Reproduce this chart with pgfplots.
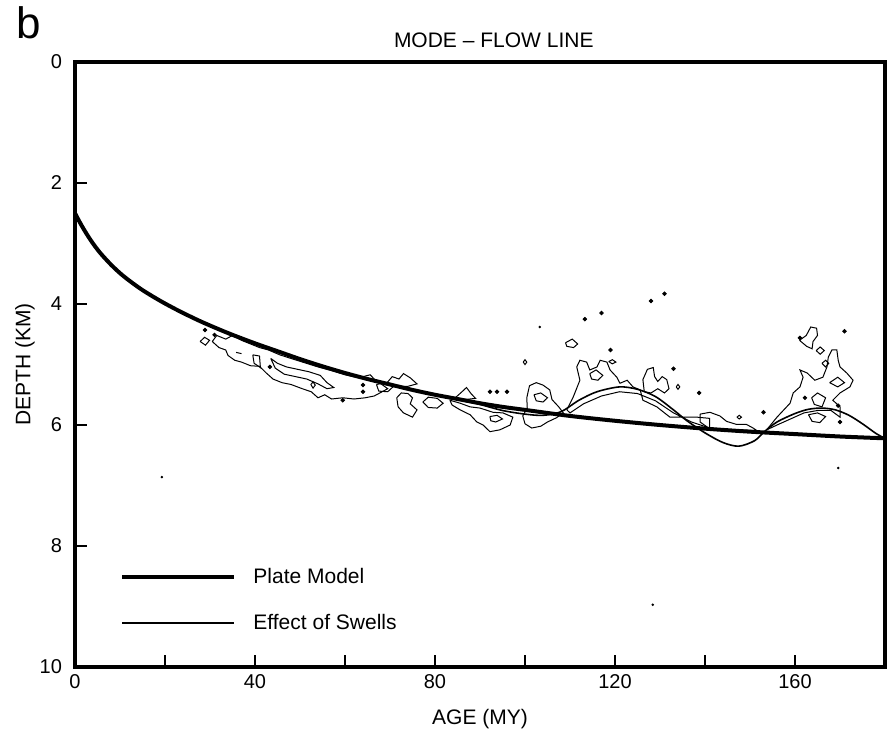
\documentclass[border=0pt]{standalone}
\usepackage{fontspec}
\setmainfont{Liberation Sans}
\usepackage{pgfplots}
\pgfplotsset{compat=1.18}
\begin{document}
\begin{tikzpicture}
\begin{axis}[
  scale only axis, width=405pt, height=302.5pt,
  xmin=0, xmax=180, ymin=0, ymax=10, y dir=reverse,
  axis line style={line width=2pt},
  xtick={0,20,...,160}, xticklabels={0,,40,,80,,120,,160},
  ytick={0,2,...,10},
  tick align=inside, xtick pos=left, ytick pos=left,
  major tick length=6pt, tick style={line width=1pt, black},
  /pgf/number format/assume math mode=true,
  ticklabel style={font=\fontsize{10}{10}\selectfont},
  yticklabel style={xshift=-3pt},
  xlabel={AGE (MY)}, ylabel={DEPTH (KM)},
  every axis x label/.style={at={(axis description cs:0.5,-0.0942)}, anchor=base, font=\fontsize{10.5}{10.5}\selectfont},
  every axis y label/.style={at={(axis description cs:-0.0617,0.5)}, rotate=90, anchor=center, font=\fontsize{10.5}{10.5}\selectfont},
  title={MODE -- FLOW LINE},
  every axis title/.style={at={(axis description cs:0.517,1.0248)}, anchor=base, font=\fontsize{10.5}{10.5}\selectfont},
  legend style={at={(axis description cs:0.0556,0.05)}, anchor=south west, draw=none, fill=none, inner sep=0pt, row sep=10pt, font=\fontsize{10.5}{10.5}\selectfont, legend cell align=left},
  legend image code/.code={\draw[#1] (0pt,0pt) -- (56pt,0pt); \path[draw=none, fill=none] (0pt,0pt) -- (63.5pt,0pt);},
  clip=true,
]
% Plate model
\addplot[black, line width=2pt, smooth] coordinates {
(0,2.50) (1,2.64) (2,2.77) (3,2.89) (4,3.00) (5,3.10) (6,3.19) (8,3.35) (10,3.49) (12,3.61)
(15,3.77) (19,3.95) (23,4.11) (28,4.29) (34,4.48) (40,4.65) (45,4.78) (50,4.91) (55,5.03) (60,5.14)
(65,5.24) (70,5.33) (75,5.42) (80,5.50) (85,5.57) (90,5.64) (95,5.70) (100,5.75) (110,5.85)
(120,5.93) (130,6.00) (140,6.06) (150,6.11) (160,6.15) (170,6.19) (180,6.22)};
\addlegendentry{Plate Model}
% Effect of swells
\addplot[black, line width=0.8pt, smooth] coordinates {
(85,5.57) (90,5.66) (95,5.76) (100,5.82) (104,5.84) (108,5.78) (112,5.59) (116,5.45) (121,5.37)
(125,5.41) (129,5.53) (133,5.75) (136,5.93) (140,6.13) (144,6.29) (147.5,6.35) (151,6.26)
(153.2,6.11) (156,5.95) (160,5.81) (163,5.74) (166,5.72) (169,5.75) (172,5.84) (175,5.98)
(178,6.14) (180,6.22)};
\addlegendentry{Effect of Swells}
% contours
\pgfplotsset{cont/.style={black, line width=0.5pt, forget plot}}
\addplot[cont] coordinates {(30.5,4.62) (31.5,4.52) (33.5,4.58) (35.0,4.52) (37.0,4.60) (39.0,4.66) (41.0,4.72) (43.0,4.76) (45.5,4.84) (48.0,4.90) (51.0,4.97) (54.0,5.04) (57.0,5.10) (60.0,5.17) (63.0,5.22) (65.6,5.17) (67.0,5.28) (68.0,5.32) (69.5,5.40) (68.0,5.46) (66.5,5.52) (64.5,5.55) (62.0,5.57) (59.5,5.55) (57.0,5.57) (55.5,5.50) (54.0,5.55) (52.5,5.45) (50.5,5.40) (48.0,5.33) (46.0,5.30) (44.0,5.24) (42.5,5.14) (41.0,5.03) (39.0,5.02) (37.0,4.96) (35.5,4.93) (34.0,4.85) (33.5,4.76) (32.0,4.72) (30.5,4.62)};
\addplot[cont] coordinates {(43.5,4.90) (45.0,4.98) (47.0,5.04) (49.5,5.08) (52.0,5.12) (54.5,5.18) (56.0,5.30) (57.5,5.38) (56.0,5.40) (54.0,5.32) (51.5,5.24) (49.0,5.20) (46.5,5.16) (44.5,5.06) (43.5,4.90)};
\addplot[cont] coordinates {(27.8,4.62) (28.8,4.55) (29.9,4.60) (29.0,4.68) (27.8,4.62)};
\addplot[cont] coordinates {(39.5,4.84) (41.0,4.86) (41.2,5.05) (39.8,4.98) (39.5,4.84)};
\addplot[cont] coordinates {(52.4,5.33) (52.9,5.29) (53.4,5.34) (52.9,5.39) (52.4,5.33)};
\addplot[cont] coordinates {(35.8,4.80) (37.0,4.82)};
\addplot[cont] coordinates {(67.0,5.33) (69.0,5.30) (70.8,5.36) (69.5,5.45) (67.5,5.44) (67.0,5.33)};
\addplot[cont] coordinates {(69.0,5.33) (70.5,5.20) (72.0,5.24) (73.0,5.15) (74.5,5.22) (76.0,5.32) (74.0,5.36) (71.0,5.36) (69.0,5.33)};
\addplot[cont] coordinates {(71.5,5.55) (72.5,5.47) (74.0,5.48) (75.0,5.55) (74.5,5.65) (76.0,5.75) (75.0,5.87) (73.0,5.80) (71.8,5.70) (71.5,5.55)};
\addplot[cont] coordinates {(77.3,5.62) (78.5,5.54) (80.5,5.56) (81.8,5.64) (80.5,5.72) (78.5,5.71) (77.3,5.62)};
\addplot[cont] coordinates {(84.5,5.55) (86.0,5.45) (87.0,5.38) (88.0,5.48) (89.0,5.56) (86.5,5.58) (84.5,5.55)};
\addplot[cont] coordinates {(83.3,5.59) (85.6,5.64) (87.8,5.70) (90.0,5.72) (92.9,5.79) (95.1,5.80) (97.3,5.87) (96.7,6.00) (94.4,6.08) (92.2,6.11) (90.7,6.00) (89.3,5.95) (87.8,5.83) (85.6,5.75) (83.8,5.67) (83.3,5.59)};
\addplot[cont] coordinates {(92.2,5.86) (93.8,5.84) (95.0,5.90) (93.5,5.95) (92.4,5.93) (92.2,5.86)};
\addplot[cont] coordinates {(100.4,5.55) (101.0,5.35) (102.5,5.30) (104.0,5.34) (105.5,5.42) (106.0,5.58) (107.5,5.70) (108.5,5.80) (107.0,5.88) (105.0,5.95) (103.5,6.02) (101.5,6.05) (100.0,5.98) (99.5,5.85) (100.5,5.72) (100.4,5.55)};
\addplot[cont] coordinates {(102.0,5.50) (103.5,5.47) (105.0,5.55) (104.0,5.62) (102.5,5.60) (102.0,5.50)};
\addplot[cont] coordinates {(109.3,5.75) (110.7,5.54) (112.2,5.26) (111.5,5.04) (112.2,4.93) (113.7,4.96) (114.4,5.09) (116.0,5.04) (116.7,4.93) (118.2,4.96) (118.9,5.09) (120.4,5.21) (121.1,5.31) (122.7,5.26) (124.0,5.37) (125.6,5.42) (126.2,5.59) (129.3,5.70) (132.2,5.87) (135.1,5.87) (138.2,5.87) (141.0,5.89) (141.0,6.05) (137.0,5.95) (133.0,5.80) (129.0,5.60) (125.0,5.48) (121.0,5.45) (117.0,5.52) (113.0,5.65) (110.0,5.80) (109.3,5.75)};
\addplot[cont] coordinates {(114.4,5.15) (115.8,5.09) (117.3,5.18) (116.2,5.26) (114.8,5.24) (114.4,5.15)};
\addplot[cont] coordinates {(109.0,4.64) (110.5,4.58) (111.7,4.66) (110.8,4.72) (109.3,4.70) (109.0,4.64)};
\addplot[cont] coordinates {(118.6,4.95) (119.4,4.92) (120.2,4.96) (119.4,4.99) (118.6,4.95)};
\addplot[cont] coordinates {(126.5,5.45) (126.2,5.25) (127.2,5.08) (128.5,5.05) (128.8,5.20) (129.5,5.28) (130.5,5.20) (131.5,5.25) (132.0,5.40) (131.0,5.47) (129.5,5.40) (128.0,5.47) (126.5,5.45)};
\addplot[cont] coordinates {(133.6,5.37) (134.0,5.33) (134.4,5.37) (134.0,5.41) (133.6,5.37)};
\addplot[cont] coordinates {(99.6,4.96) (100.0,4.92) (100.4,4.96) (100.0,5.00) (99.6,4.96)};
\addplot[cont] coordinates {(138.9,5.82) (141.1,5.79) (143.3,5.85) (144.8,5.94) (147.0,5.99) (149.2,5.99) (150.7,6.05) (151.5,6.09) (146.0,6.08) (141.0,6.06) (138.9,5.95) (138.9,5.82)};
\addplot[cont] coordinates {(153.7,6.08) (156.0,5.87) (158.9,5.64) (159.6,5.47) (161.1,5.37) (161.8,5.21) (161.1,5.09) (162.7,5.14) (164.4,5.26) (166.2,5.21) (167.1,5.04) (167.4,4.88) (168.2,4.76) (169.3,4.76) (169.6,4.93) (170.0,5.04) (171.5,5.14) (172.9,5.26) (172.2,5.37) (170.0,5.47) (168.4,5.59) (170.0,5.70) (170.0,5.87) (168.0,5.76) (165.0,5.76) (162.0,5.80) (159.0,5.90) (156.0,6.00) (153.7,6.08)};
\addplot[cont] coordinates {(163.7,5.55) (165.0,5.47) (166.8,5.55) (166.0,5.70) (164.3,5.66) (163.7,5.55)};
\addplot[cont] coordinates {(167.7,5.30) (169.5,5.21) (171.0,5.30) (169.5,5.37) (167.7,5.30)};
\addplot[cont] coordinates {(163.0,5.83) (165.0,5.80) (166.8,5.86) (165.5,5.96) (163.8,5.94) (163.0,5.83)};
\addplot[cont] coordinates {(161.0,4.60) (162.5,4.52) (163.5,4.38) (164.8,4.40) (165.0,4.52) (164.0,4.62) (163.8,4.74) (162.6,4.70) (161.0,4.60)};
\addplot[cont] coordinates {(164.7,4.77) (165.6,4.71) (166.5,4.77) (165.6,4.83) (164.7,4.77)};
\addplot[cont] coordinates {(166.0,4.98) (166.8,4.93) (167.5,4.98) (166.8,5.04) (166.0,4.98)};
\addplot[cont] coordinates {(147.1,5.87) (147.6,5.84) (148.1,5.87) (147.6,5.90) (147.1,5.87)};
% dots
\addplot[only marks, mark=*, mark size=0.9pt, black, forget plot] coordinates {
(28.9,4.43) (31.0,4.51) (43.3,5.04) (59.5,5.59) (64.0,5.34) (64.0,5.45)
(92.2,5.45) (93.8,5.45) (96.0,5.45)
(113.3,4.25) (117.0,4.15) (128.0,3.95) (131.0,3.83) (119.0,4.76) (133.0,5.07) (138.7,5.47)
(171.0,4.45) (153.0,5.79) (170.0,5.95) (169.6,5.68) (162.2,5.55) (161.1,4.56)};
\addplot[only marks, mark=*, mark size=0.4pt, black, forget plot] coordinates {
(19.3,6.86) (128.4,8.97) (169.6,6.71) (103.3,4.38)};
\end{axis}
\node[anchor=base west, font=\fontsize{22}{22}\selectfont] at (-33pt,314pt) {b};
\pgfresetboundingbox
\path (-37.5pt,-37pt) rectangle (407pt,333.5pt);
\end{tikzpicture}
\end{document}
